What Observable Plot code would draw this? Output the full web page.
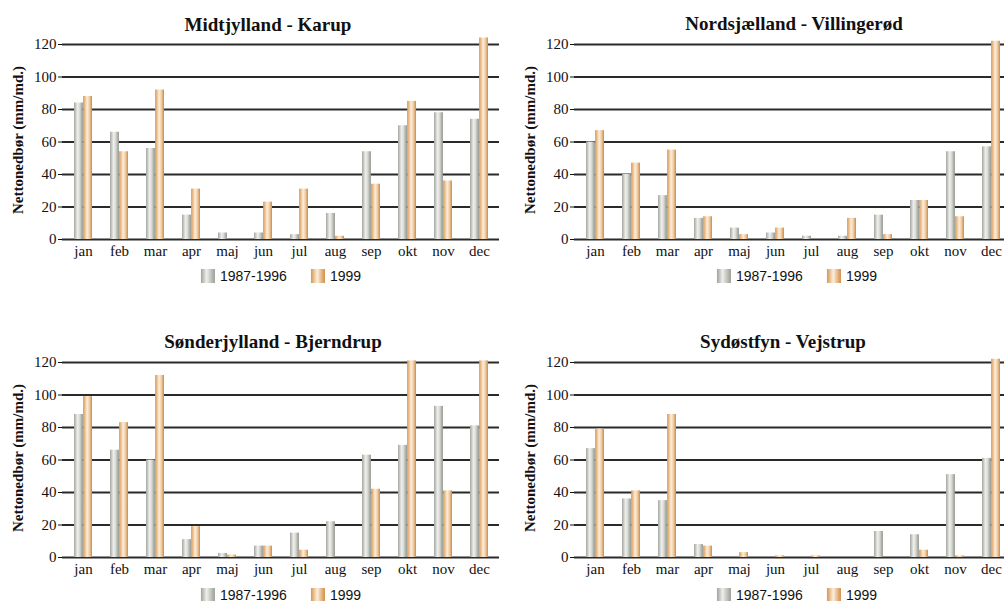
<!DOCTYPE html>
<html>
<head>
<meta charset="utf-8">
<script src="https://cdn.jsdelivr.net/npm/d3@7"></script>
<script src="https://cdn.jsdelivr.net/npm/@observablehq/plot@0.6"></script>
<style>
  html, body { margin: 0; padding: 0; width: 1004px; height: 601px; overflow: hidden; background: #fff; }
  .panel { position: absolute; width: 500px; }
  .panel svg { max-width: none !important; }
  .title { position: absolute; font-family: 'Liberation Serif', serif; font-weight: bold; font-size: 19px; line-height: 22px; color: #111; white-space: nowrap; transform: translateX(-50%); }
  .legend { position: absolute; transform: translate(-50%, -50%); display: flex; align-items: center; font-family: 'Liberation Sans', sans-serif; font-size: 14px; color: #111; white-space: nowrap; }
  .legend .item { display: flex; align-items: center; margin: 0 12px; }
  .legend .sw { width: 14px; height: 14px; margin-right: 5px; }
  .sw.gray { background: linear-gradient(to right, #9fa39b 0%, #eeeeea 40%, #9a9e96 100%); }
  .sw.orange { background: linear-gradient(to right, #d8964f 0%, #fbeedd 45%, #d38c45 100%); }
</style>
</head>
<body>
<svg width="0" height="0" style="position:absolute">
  <defs>
    <linearGradient id="gradGray" x1="0" x2="1" y1="0" y2="0">
      <stop offset="0%" stop-color="#a3a69f"/>
      <stop offset="40%" stop-color="#efefeb"/>
      <stop offset="65%" stop-color="#d6d8d2"/>
      <stop offset="100%" stop-color="#8f938b"/>
    </linearGradient>
    <linearGradient id="gradOrange" x1="0" x2="1" y1="0" y2="0">
      <stop offset="0%" stop-color="#d9974f"/>
      <stop offset="45%" stop-color="#fbeedd"/>
      <stop offset="70%" stop-color="#efcfa8"/>
      <stop offset="100%" stop-color="#d08a43"/>
    </linearGradient>
  </defs>
</svg>
<div id="root"></div>
<script>
// ---- data ----
const months = ["jan","feb","mar","apr","maj","jun","jul","aug","sep","okt","nov","dec"];
const seriesNames = ["1987-1996", "1999"];
const yTicks = [0, 20, 40, 60, 80, 100, 120];
const yLabel = "Nettonedbør (mm/md.)";

const stationTitles = [
  "Midtjylland - Karup",
  "Nordsjælland - Villingerød",
  "Sønderjylland - Bjerndrup",
  "Sydøstfyn - Vejstrup"
];

const karupNormal = [84, 66, 56, 15, 4, 4, 3, 16, 54, 70, 78, 74];
const karup1999   = [88, 54, 92, 31, 0, 23, 31, 2, 34, 85, 36, 124];

const villingerodNormal = [60, 40, 27, 13, 7, 4, 2, 2, 15, 24, 54, 57];
const villingerod1999   = [67, 47, 55, 14, 3, 7, 0, 13, 3, 24, 14, 122];

const bjerndrupNormal = [88, 66, 60, 11, 2.5, 7, 15, 22, 63, 69, 93, 81];
const bjerndrup1999   = [99, 83, 112, 19, 1.5, 7, 4.5, 0, 42, 121, 41, 121];

const vejstrupNormal = [67, 36, 35, 8, 0, 0, 0, 0, 16, 14, 51, 61];
const vejstrup1999   = [79, 41, 88, 7, 3, 1, 1, 0, 0, 4.5, 1, 122];

// ---- layout (positions only) ----
const panels = [
  {title: stationTitles[0], normal: karupNormal, y1999: karup1999, left: 0, top: 30, titleX: 268, titleY: 14, legX: 281, legY: 276},
  {title: stationTitles[1], normal: villingerodNormal, y1999: villingerod1999, left: 512, top: 30, titleX: 794, titleY: 13, legX: 797, legY: 276},
  {title: stationTitles[2], normal: bjerndrupNormal, y1999: bjerndrup1999, left: 0, top: 348, titleX: 273, titleY: 331, legX: 281, legY: 595},
  {title: stationTitles[3], normal: vejstrupNormal, y1999: vejstrup1999, left: 512, top: 348, titleX: 783, titleY: 331, legX: 797, legY: 595}
];

const root = document.getElementById("root");
const W = 500, mL = 62, mR = 1, mT = 14, mB = 24;
const innerH = 195;
const band = (W - mL - mR) / months.length;
const half = band * 0.5 / 2;
const serif = "'Liberation Serif', serif";

for (const p of panels) {
  const rowsN = months.map((m, i) => ({month: m, series: seriesNames[0], value: p.normal[i]}));
  const rows9 = months.map((m, i) => ({month: m, series: seriesNames[1], value: p.y1999[i]}));

  const chart = Plot.plot({
    width: W,
    height: mT + innerH + mB,
    marginLeft: mL, marginRight: mR, marginTop: mT, marginBottom: mB,
    style: {fontFamily: serif, fontSize: "15px", color: "#111", background: "transparent", overflow: "visible"},
    x: {domain: months, paddingInner: 0.5, paddingOuter: 0.25, align: 0.5, label: null, tickSize: 0, tickPadding: 6},
    y: {domain: [0, 120], ticks: yTicks, label: null, tickSize: 4, tickPadding: 2},
    marks: [
      Plot.ruleY(yTicks, {stroke: "#2a2a2a", strokeWidth: 2}),
      Plot.barY(rowsN, {x: "month", y: "value", fill: "url(#gradGray)", insetRight: half, insetLeft: 0}),
      Plot.barY(rows9, {x: "month", y: "value", fill: "url(#gradOrange)", insetLeft: half, insetRight: 0}),
      Plot.text([yLabel], {frameAnchor: "left", textAnchor: "middle", rotate: -90, dx: -44, dy: -2, fontWeight: "bold", fontSize: 15, fill: "#111"})
    ]
  });
  chart.style.maxWidth = "none";
  const wrap = document.createElement("div");
  wrap.className = "panel";
  wrap.style.left = p.left + "px";
  wrap.style.top = p.top + "px";
  wrap.appendChild(chart);
  root.appendChild(wrap);

  const t = document.createElement("div");
  t.className = "title";
  t.style.left = p.titleX + "px";
  t.style.top = p.titleY + "px";
  t.textContent = p.title;
  root.appendChild(t);

  const lg = document.createElement("div");
  lg.className = "legend";
  lg.style.left = p.legX + "px";
  lg.style.top = p.legY + "px";
  lg.innerHTML = `<div class="item"><div class="sw gray"></div><span>${seriesNames[0]}</span></div>` +
                 `<div class="item"><div class="sw orange"></div><span>${seriesNames[1]}</span></div>`;
  root.appendChild(lg);
}
</script>
</body>
</html>
